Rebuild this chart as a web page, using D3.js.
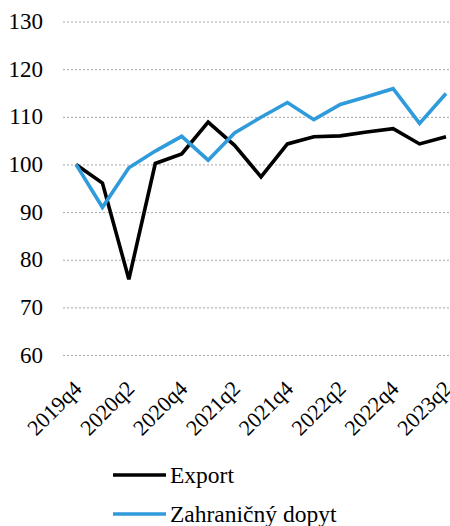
<!DOCTYPE html>
<html>
<head>
<meta charset="utf-8">
<script src="https://cdn.jsdelivr.net/npm/d3@7"></script>
<style>
  body { margin: 0; background: #fff; font-family: "Liberation Serif", serif; }
  svg text { font-family: "Liberation Serif", serif; }
</style>
</head>
<body>
<svg id="chart" width="450" height="526"></svg>
<script>
var quarters = ["2019q4", "2020q1", "2020q2", "2020q3", "2020q4", "2021q1", "2021q2", "2021q3",
  "2021q4", "2022q1", "2022q2", "2022q3", "2022q4", "2023q1", "2023q2"];
var exportValues = [100, 96.1, 75.9, 100.2, 102.2, 108.9, 104, 97.4, 104.3, 105.8, 106.0, 106.8, 107.5, 104.3, 105.8];
var demandValues = [100, 91.0, 99.3, 102.8, 105.9, 100.9, 106.6, 109.9, 113.0, 109.4, 112.6, 114.2, 115.9, 108.6, 114.9];
var yTicks = [60, 70, 80, 90, 100, 110, 120, 130];
var seriesNames = ["Export", "Zahraničný dopyt"];

var width = 450, height = 526;
var colors = ["#000000", "#2f9bdb"];

var svg = d3.select("#chart");

// Set the ranges
var x = d3.scalePoint().domain(quarters).range([76, 446]);
var y = d3.scaleLinear().domain([60, 130]).range([355, 21.5]);

// gridlines
svg.append("g").selectAll("line")
  .data(yTicks)
  .enter().append("line")
    .attr("x1", 63)
    .attr("x2", width)
    .attr("y1", function(d) { return y(d) + 0.5; })
    .attr("y2", function(d) { return y(d) + 0.5; })
    .attr("stroke", "#a6a6a6")
    .attr("stroke-width", 1)
    .attr("stroke-dasharray", "2,2");

// Y labels
svg.append("g").selectAll("text")
  .data(yTicks)
  .enter().append("text")
    .attr("x", 43)
    .attr("y", function(d) { return y(d); })
    .attr("dy", "0.33em")
    .attr("text-anchor", "end")
    .style("font-size", "23px")
    .text(function(d) { return d; });

// X labels, every second quarter
svg.append("g").selectAll("text")
  .data(quarters.filter(function(d, i) { return i % 2 === 0; }))
  .enter().append("text")
    .attr("transform", function(d) { return "translate(" + (x(d) + 7) + ",390) rotate(-45)"; })
    .attr("text-anchor", "end")
    .style("font-size", "22px")
    .text(function(d) { return d; });

// lines
var valueline = d3.line()
  .x(function(d, i) { return x(quarters[i]); })
  .y(function(d) { return y(d); });

[exportValues, demandValues].forEach(function(values, i) {
  svg.append("path")
    .attr("d", valueline(values))
    .attr("fill", "none")
    .attr("stroke", colors[i])
    .attr("stroke-width", 3.6)
    .attr("stroke-linejoin", "miter");
});

// legend
var legend = svg.append("g").selectAll("g")
  .data(seriesNames)
  .enter().append("g")
    .attr("transform", function(d, i) { return "translate(113," + (475 + i * 39) + ")"; });

legend.append("line")
  .attr("x1", 0).attr("x2", 53)
  .attr("stroke", function(d, i) { return colors[i]; })
  .attr("stroke-width", 3.6);

legend.append("text")
  .attr("x", 57)
  .attr("dy", "0.33em")
  .style("font-size", "23.5px")
  .text(function(d) { return d; });
</script>
</body>
</html>
